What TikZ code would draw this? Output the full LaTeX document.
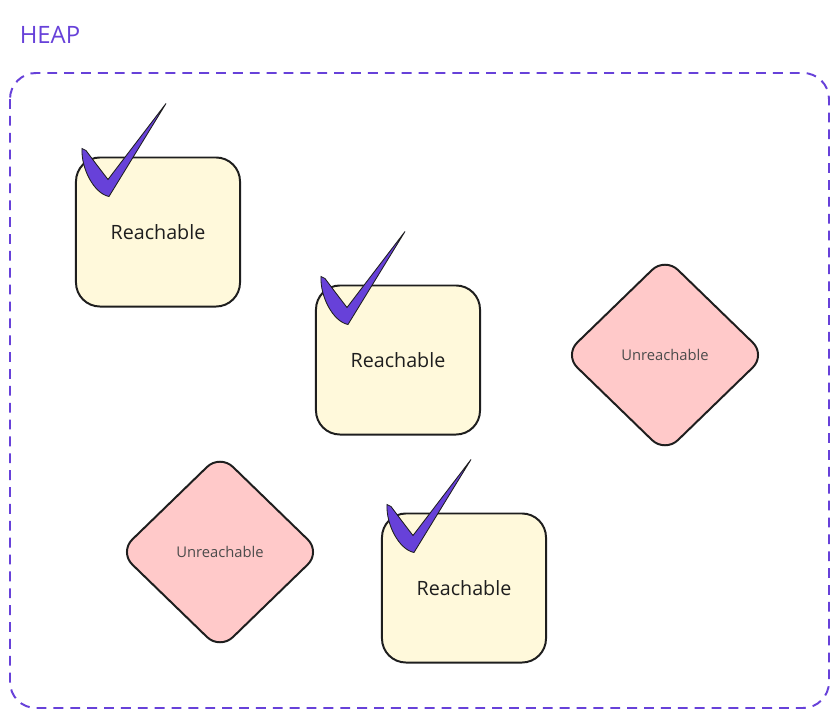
\documentclass[tikz,border=0pt]{standalone}
\usepackage{fontspec}
\setmainfont{Open Sans}
\usetikzlibrary{shapes.geometric}

\definecolor{ink}{HTML}{1E1E1E}
\definecolor{violet}{HTML}{6741D9}
\definecolor{reachfill}{HTML}{FFF9DB}
\definecolor{unreachfill}{HTML}{FFC9C9}

\begin{document}
\begin{tikzpicture}[
    x=0.025cm, y=-0.025cm,
    frame/.style={draw=violet, line width=1.4pt, dash pattern=on 7pt off 5pt, rounded corners=0.65cm},
    reach/.style={draw=ink, line width=1.4pt, fill=reachfill, rounded corners=0.6cm, minimum width=4.1cm, minimum height=3.725cm, font=\fontsize{14}{16}\selectfont, text=ink},
    unreach/.style={diamond, draw=ink, line width=1.4pt, fill=unreachfill, rounded corners=0.45cm, minimum width=5.05cm, minimum height=4.9cm, inner sep=0pt, font=\fontsize{10.5}{12}\selectfont, text=ink!80},
    checkmark/.pic={
        \filldraw[fill=violet, draw=ink, line width=0.6pt]
            (0,0) .. controls (-1,20) and (12,45) .. (27,48) -- (84,-45) -- (26,31) .. controls (16,18) .. (4,2) -- cycle;
    },
]
    \useasboundingbox (0,0) rectangle (838,718);

    \node[text=violet, font=\fontsize{17}{20}\selectfont] (heap) at (50,35) {HEAP};
    \draw[frame] (10,73) rectangle (829,708);

    \node[reach] (r1) at (158,232) {Reachable};
    \node[reach] (r2) at (398,360) {Reachable};
    \node[reach] (r3) at (464,588) {Reachable};

    \node[unreach] (u1) at (665,355) {Unreachable};
    \node[unreach] (u2) at (220,552) {Unreachable};

    \pic at ([shift={(7,-8)}]r1.north west) {checkmark};
    \pic at ([shift={(6,-8)}]r2.north west) {checkmark};
    \pic at ([shift={(6,-8)}]r3.north west) {checkmark};
\end{tikzpicture}
\end{document}
